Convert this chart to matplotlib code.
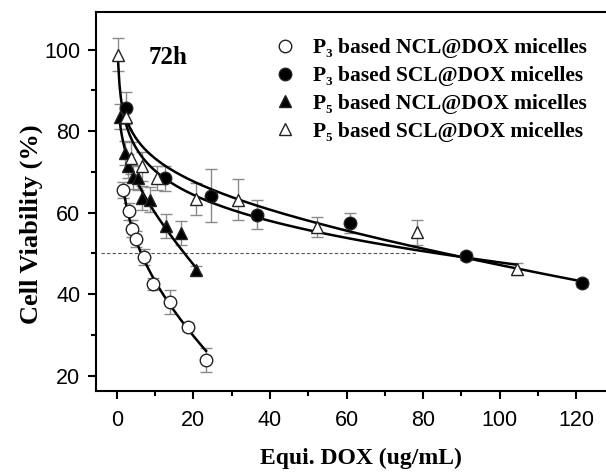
"""Cell viability at 72 h vs. equivalent DOX concentration."""
import matplotlib
matplotlib.use("Agg")
import matplotlib.pyplot as plt
import numpy as np
from matplotlib.lines import Line2D

SERIF = ["Liberation Serif", "DejaVu Serif"]
SANS = ["Liberation Sans", "DejaVu Sans"]

# P3 based NCL@DOX micelles (open circles)
p3_ncl_x = [1.65, 3.2, 4.0, 5.0, 7.1, 9.5, 13.9, 18.6, 23.3]
p3_ncl_y = [65.6, 60.3, 56.1, 53.5, 49.1, 42.5, 38.1, 31.9, 23.9]
p3_ncl_err = [2.0, 2.0, 2.0, 2.0, 2.0, 1.5, 3.0, 1.0, 3.0]

# P3 based SCL@DOX micelles (filled circles)
p3_scl_x = [2.5, 12.7, 24.6, 36.7, 60.9, 91.2, 121.5]
p3_scl_y = [85.7, 68.4, 64.2, 59.5, 57.5, 49.4, 42.7]
p3_scl_err = [4.0, 3.0, 6.5, 3.5, 2.5, 1.0, 1.0]

# P5 based NCL@DOX micelles (filled triangles)
p5_ncl_x = [0.8, 2.1, 3.0, 4.3, 5.6, 6.5, 8.6, 12.8, 16.7, 20.8]
p5_ncl_y = [83.6, 74.6, 71.4, 68.8, 68.5, 63.6, 63.2, 56.8, 55.0, 46.0]
p5_ncl_err = [3.0, 3.0, 3.0, 3.0, 3.0, 3.0, 3.0, 3.0, 3.0, 1.0]

# P5 based SCL@DOX micelles (open triangles)
p5_scl_x = [0.35, 2.5, 3.8, 6.5, 10.4, 20.8, 31.7, 52.4, 78.5, 104.5]
p5_scl_y = [98.8, 83.5, 73.4, 71.4, 68.5, 63.4, 63.2, 56.5, 55.2, 46.2]
p5_scl_err = [4.0, 3.0, 4.0, 3.5, 3.0, 4.0, 5.0, 2.5, 3.0, 1.5]

labels = ["P\u2083 based NCL@DOX micelles", "P\u2083 based SCL@DOX micelles",
          "P\u2085 based NCL@DOX micelles", "P\u2085 based SCL@DOX micelles"]

series = [
    (p3_ncl_x, p3_ncl_y, p3_ncl_err, "o", "white"),
    (p3_scl_x, p3_scl_y, p3_scl_err, "o", "black"),
    (p5_ncl_x, p5_ncl_y, p5_ncl_err, "^", "black"),
    (p5_scl_x, p5_scl_y, p5_scl_err, "^", "white"),
]


def fit_curve(x, y, err):
    """Weighted least-squares fit y = a + b*ln(x) + c*x over the data range."""
    w = 1.0 / err
    A = np.column_stack([np.ones_like(x), np.log(x), x])
    coef, *_ = np.linalg.lstsq(A * w[:, None], y * w, rcond=None)
    xs = np.linspace(x.min(), x.max(), 300)
    return xs, coef[0] + coef[1] * np.log(xs) + coef[2] * xs


fig = plt.figure(figsize=(6.06, 4.72), dpi=100)
ax = fig.add_axes([0.158, 0.172, 0.875, 0.803])

# IC50 guide line
ax.plot([-4, 78.5], [50, 50], ls=(0, (3, 2)), color="#555555", lw=0.8, zorder=1)

for x, y, err, mk, fc in series:
    x = np.array(x)
    y = np.array(y)
    err = np.array(err)
    ax.errorbar(x, y, yerr=err, fmt="none", ecolor="#8a8a8a", elinewidth=1,
                capsize=4, capthick=1, zorder=2)
    xs, ys = fit_curve(x, y, err)
    ax.plot(xs, ys, color="black", lw=1.8, zorder=3)
    ax.plot(x, y, ls="none", marker=mk, ms=9, mfc=fc, mec="#222222",
            mew=1.0, zorder=4)

ax.set_xlim(-5.5, 133)
ax.set_ylim(16.3, 109.3)
ax.set_xticks(np.arange(0, 121, 20))
ax.set_xticks(np.arange(10, 121, 20), minor=True)
ax.set_yticks(np.arange(20, 101, 20))
ax.set_yticks(np.arange(30, 101, 20), minor=True)
ax.tick_params(which="major", direction="out", length=6, width=1.5,
               labelsize=15.5, pad=5)
ax.tick_params(axis="x", which="major", pad=8)
ax.tick_params(which="minor", direction="out", length=3.5, width=1.5)
for lab in ax.get_xticklabels() + ax.get_yticklabels():
    lab.set_family(SANS)
for side in ["left", "bottom", "top"]:
    ax.spines[side].set_linewidth(1.5)
ax.spines["right"].set_visible(False)

ax.set_xlabel("Equi. DOX (ug/mL)", family=SERIF, fontweight="bold",
              fontsize=17, labelpad=12)
ax.set_ylabel("Cell Viability (%)", family=SERIF, fontweight="bold",
              fontsize=19, va="center")
ax.yaxis.set_label_coords(-0.121, 0.44)

ax.text(0.10, 0.88, "72h", transform=ax.transAxes, family=SERIF,
        fontweight="bold", fontsize=18, va="center")

handles = [Line2D([], [], ls="none", marker=mk, ms=9, mfc=fc, mec="#222222",
                  mew=1.0) for _, _, _, mk, fc in series]
leg = ax.legend(handles, labels, loc="upper left", bbox_to_anchor=(0.30, 0.953),
                frameon=False, handletextpad=0.3, labelspacing=0.36,
                borderaxespad=0,
                prop={"family": SERIF, "weight": "bold", "size": 15.5})

fig.savefig("out.png", dpi=100)
print("Saved to out.png")
